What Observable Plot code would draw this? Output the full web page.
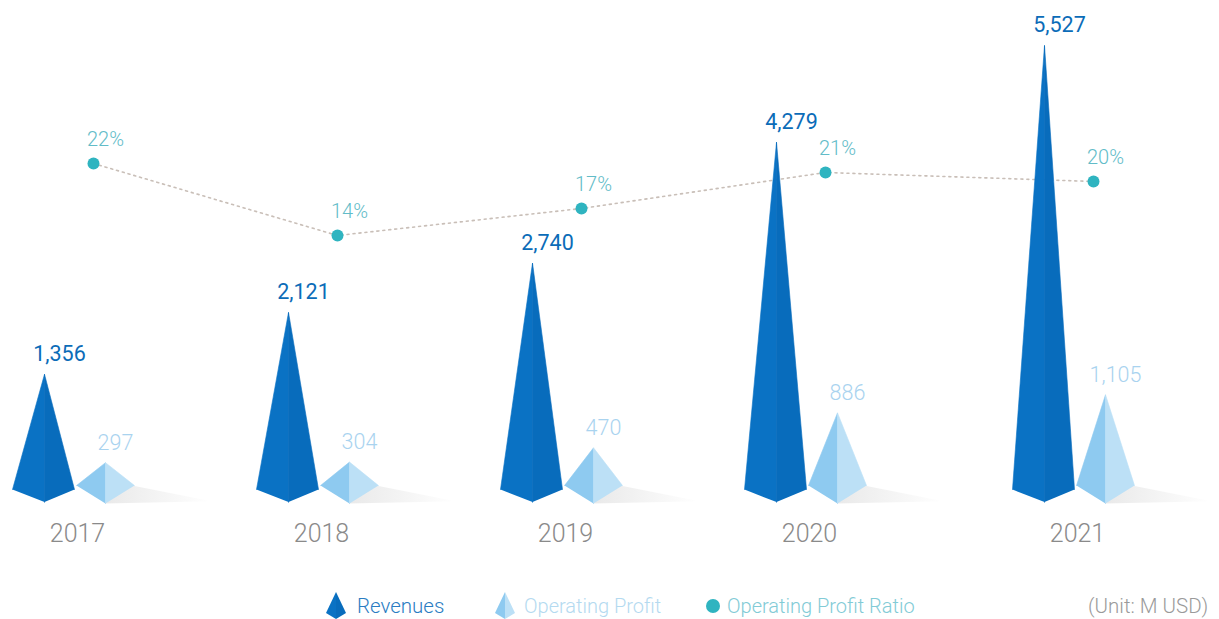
<!DOCTYPE html>
<html><head><meta charset="utf-8">
<script src="https://cdn.jsdelivr.net/npm/d3@7"></script>
<script src="https://cdn.jsdelivr.net/npm/@observablehq/plot@0.6"></script>
<style>
html,body{margin:0;padding:0;background:#fff}
#c{position:relative;width:1219px;height:619px;overflow:hidden;font-family:Roboto,sans-serif;font-weight:300}
#c svg.p{position:absolute;left:0;top:0}
.l{position:absolute;white-space:nowrap;line-height:1}
</style></head><body><div id="c"></div>
<script>
const years = [2017, 2018, 2019, 2020, 2021];
const revenues = [1356, 2121, 2740, 4279, 5527];
const profits = [297, 304, 470, 886, 1105];
const ratios = [22, 14, 17, 21, 20];

const W = 1219, H = 619;
const groupX = d3.scaleLinear([2017, 2020, 2021], [44, 776, 1044]);
const rows = years.map((year, i) => ({year, rev: revenues[i], prof: profits[i], ratio: ratios[i], cx: groupX(year)}));

const xOpt = {domain: [0, W], axis: null};
const base = {width: W, height: H, marginLeft: 0, marginRight: 0, marginTop: 0, marginBottom: 0,
  style: {background: "transparent", fontFamily: "Roboto, sans-serif"}};

function face(key, dx, hw, side, corner, tip) {
  return rows.flatMap(r => [
    {id: r.year, x: r.cx + dx + side * hw, y: corner},
    {id: r.year, x: r.cx + dx, y: r[key]},
    {id: r.year, x: r.cx + dx, y: tip}
  ]);
}
const shadow = rows.flatMap(r => [
  {id: r.year, x: r.cx + 85, y: 45},
  {id: r.year, x: r.cx + 167, y: -125},
  {id: r.year, x: r.cx + 60, y: -150}
]);
const fillFace = (pts, fill) => Plot.line(pts, {x: "x", y: "y", z: "id", fill, stroke: fill === "url(#shade)" ? "none" : fill, strokeWidth: 0.6, curve: "linear"});

const lineX = d => d.cx + 49;
const ratioPlot = Plot.plot({...base,
  x: xOpt,
  y: {domain: [14, 22], range: [235, 163], axis: null},
  marks: [
    Plot.line(rows, {x: lineX, y: "ratio", stroke: "#c9bfb8", strokeWidth: 1.6, strokeDasharray: "2 4"}),
    Plot.dot(rows, {x: lineX, y: "ratio", r: 6, fill: "#2fb4c0"}),
    Plot.text(rows, {x: d => d.cx + 61, y: "ratio", dy: -24, text: d => d.ratio + "%", fill: "#62bcc8", fontSize: 20, fontWeight: 300})
  ]
});

const fmt = d3.format(",");
const pyramidPlot = Plot.plot({...base,
  x: xOpt,
  y: {type: "pow", exponent: 0.96, domain: [0, 5527], range: [489, 45], axis: null},
  marks: [
    fillFace(shadow, "url(#shade)"),
    fillFace(face("rev", 0, 32, -1, 0, -135), "#0a72c4"),
    fillFace(face("rev", 0, 30, 1, 0, -135), "#086cbc"),
    fillFace(face("prof", 61, 29, -1, 40, -150), "#8ecaf0"),
    fillFace(face("prof", 61, 29, 1, 40, -150), "#bce0f6"),
    Plot.text(rows, {x: d => d.cx + 15, y: "rev", dy: -20, text: d => fmt(d.rev), fill: "#0b6cb8", fontSize: 21.5, fontWeight: 400}),
    Plot.text(rows, {x: d => d.cx + 71, y: "prof", dy: -20, text: d => fmt(d.prof), fill: "#a9d3ef", fontSize: 21.5, fontWeight: 300}),
    Plot.text(rows, {x: d => d.cx + 33, y: 0, dy: 44, text: d => String(d.year), fill: "#8a8a8a", fontSize: 25, fontWeight: 300})
  ]
});

const c = document.getElementById("c");
for (const s of [ratioPlot, pyramidPlot]) { s.classList.add("p"); c.appendChild(s); }
d3.select(pyramidPlot).insert("defs", ":first-child").html(
  '<linearGradient id="shade" x1="0" x2="1" y1="0" y2="0"><stop offset="0" stop-color="#e9e9e9"/><stop offset="1" stop-color="#ffffff"/></linearGradient>');

function icon(x, l, r) {
  return `<svg style="position:absolute;left:${x}px;top:592px" width="20" height="27" viewBox="0 0 20 27"><polygon points="0,21 10,0 10,27" fill="${l}"/><polygon points="20,21 10,0 10,27" fill="${r}"/></svg>`;
}
function label(x, t, size, color) {
  return `<div class="l" style="left:${x}px;top:${606 - size * 0.5}px;font-size:${size}px;color:${color}">${t}</div>`;
}
c.insertAdjacentHTML("beforeend",
  icon(326, "#0a72c4", "#086cbc") + label(357, "Revenues", 20.5, "#2a7cc2") +
  icon(495, "#8ecaf0", "#bce0f6") + label(524, "Operating Profit", 20, "#b4daf0") +
  `<div style="position:absolute;left:706px;top:599px;width:14px;height:14px;border-radius:50%;background:#2fb4c0"></div>` +
  label(727, "Operating Profit Ratio", 20, "#82cbd6") +
  label(1088, "(Unit: M USD)", 20.5, "#9a9a9a"));
</script></body></html>
